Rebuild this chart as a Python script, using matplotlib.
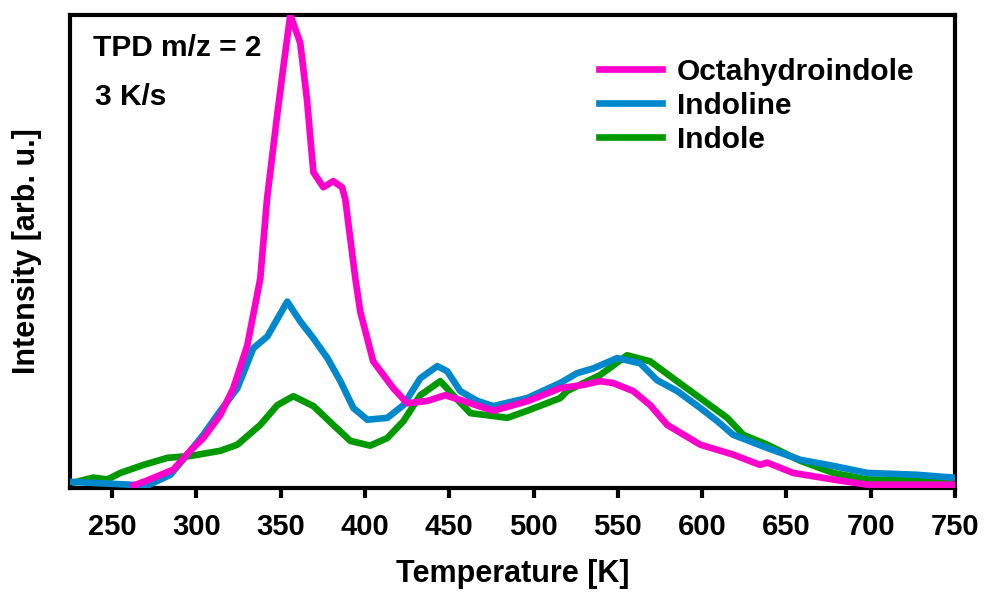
import matplotlib
matplotlib.use("Agg")
import matplotlib.pyplot as plt

plt.rcParams['font.family'] = ['Liberation Sans', 'DejaVu Sans']
plt.rcParams['font.weight'] = 'bold'

# values (temperature in K, intensity in arb. units, peak = 100)
octa_T = [262.6, 270.8, 286.3, 296.4, 304.1, 314.2, 321.9, 330.2, 337.9, 341.9, 347.8,
          351.6, 355.7, 361.6, 365.6, 369.4, 375.3, 381.2, 386.4, 388.3, 394.3, 397.2,
          404.9, 416.8, 425.1, 437.0, 447.6, 456.5, 476.1, 496.9, 515.8, 529.5, 539.5,
          547.2, 559.1, 569.2, 579.3, 598.9, 618.4, 634.4, 638.6, 654.0, 677.7, 697.9, 748.9]
octa_I = [0.0, 1.1, 3.4, 7.4, 10.1, 15.0, 20.7, 29.8, 44.0, 60.9, 78.4,
          89.0, 100.0, 94.1, 82.0, 66.6, 63.4, 64.7, 63.4, 60.9, 44.0, 37.0,
          26.4, 20.7, 17.5, 18.0, 19.2, 18.2, 15.9, 18.0, 20.7, 21.4, 22.2,
          21.8, 20.1, 17.1, 12.9, 8.7, 6.6, 4.4, 4.9, 2.7, 1.3, 0.2, 0.2]

indoline_T = [225.3, 254.9, 270.8, 284.6, 294.6, 304.1, 314.2, 324.3, 333.8, 342.1, 353.9,
              361.6, 369.4, 377.7, 385.4, 393.1, 401.4, 413.3, 422.8, 432.8, 442.9, 448.8,
              456.5, 466.6, 476.1, 496.2, 515.8, 525.9, 535.4, 549.6, 563.2, 573.3, 585.2,
              598.9, 609.0, 618.4, 638.6, 658.1, 677.7, 697.9, 727.5, 748.9]
indoline_I = [0.8, 0.3, 0.0, 2.3, 6.6, 10.8, 15.9, 20.7, 29.2, 31.7, 39.1,
              34.9, 31.3, 27.1, 22.2, 16.5, 14.0, 14.4, 17.1, 22.8, 25.4, 24.3,
              20.1, 18.0, 16.9, 18.6, 21.8, 23.9, 24.9, 27.1, 26.0, 22.4, 20.1,
              16.5, 13.7, 10.8, 8.0, 5.5, 4.2, 2.7, 2.3, 1.7]

indole_T = [226.5, 238.9, 247.2, 254.9, 268.6, 282.8, 296.4, 314.2, 324.3, 337.9, 348.0,
            357.5, 369.4, 381.2, 391.3, 403.1, 413.2, 422.8, 432.8, 444.7, 452.4, 462.5,
            476.1, 484.4, 496.2, 515.8, 519.9, 539.5, 555.5, 569.2, 582.8, 598.9, 614.9,
            624.4, 638.6, 658.1, 677.7, 697.9, 727.5, 748.9]
indole_I = [0.6, 1.7, 1.3, 2.7, 4.4, 5.9, 6.3, 7.4, 8.7, 12.9, 17.1,
            19.0, 16.9, 12.9, 9.5, 8.5, 10.1, 13.7, 19.2, 22.2, 19.2, 15.4,
            14.8, 14.4, 15.9, 18.6, 20.1, 23.5, 27.7, 26.4, 22.8, 18.6, 14.4,
            10.8, 8.7, 5.3, 2.7, 1.3, 1.1, 1.1]

x_ticks = [250, 300, 350, 400, 450, 500, 550, 600, 650, 700, 750]

fig = plt.figure(figsize=(9.84, 5.94), dpi=100)
ax = fig.add_axes([0.0711, 0.1785, 0.8994, 0.7962])

lw = 4.8
ax.plot(indole_T, indole_I, color='#009900', lw=lw, label='Indole', zorder=2)
ax.plot(indoline_T, indoline_I, color='#0088CC', lw=lw, label='Indoline', zorder=3)
ax.plot(octa_T, octa_I, color='#FF00CC', lw=lw, label='Octahydroindole', zorder=4)

ax.set_xlim(225, 750)
ax.set_ylim(-0.5, 100)
ax.set_xticks(x_ticks)
ax.set_yticks([])
ax.tick_params(axis='x', direction='out', length=7, width=3, labelsize=21, pad=11)
for s in ax.spines.values():
    s.set_linewidth(3)

ax.set_xlabel('Temperature [K]', fontsize=22, fontweight='bold', labelpad=13)
ax.set_ylabel('Intensity [arb. u.]', fontsize=22, fontweight='bold', labelpad=20)

ax.text(0.026, 0.93, 'TPD m/z = 2', transform=ax.transAxes, fontsize=21.5,
        fontweight='bold', va='center')
ax.text(0.028, 0.827, '3 K/s', transform=ax.transAxes, fontsize=21.5,
        fontweight='bold', va='center')

h, l = ax.get_legend_handles_labels()
ax.legend(h[::-1], l[::-1], loc='upper left', bbox_to_anchor=(0.598, 0.91),
          frameon=False, fontsize=21.5, handlelength=2.1, handletextpad=0.5,
          labelspacing=0.2, borderaxespad=0, borderpad=0)

fig.savefig('out.png', dpi=100)
